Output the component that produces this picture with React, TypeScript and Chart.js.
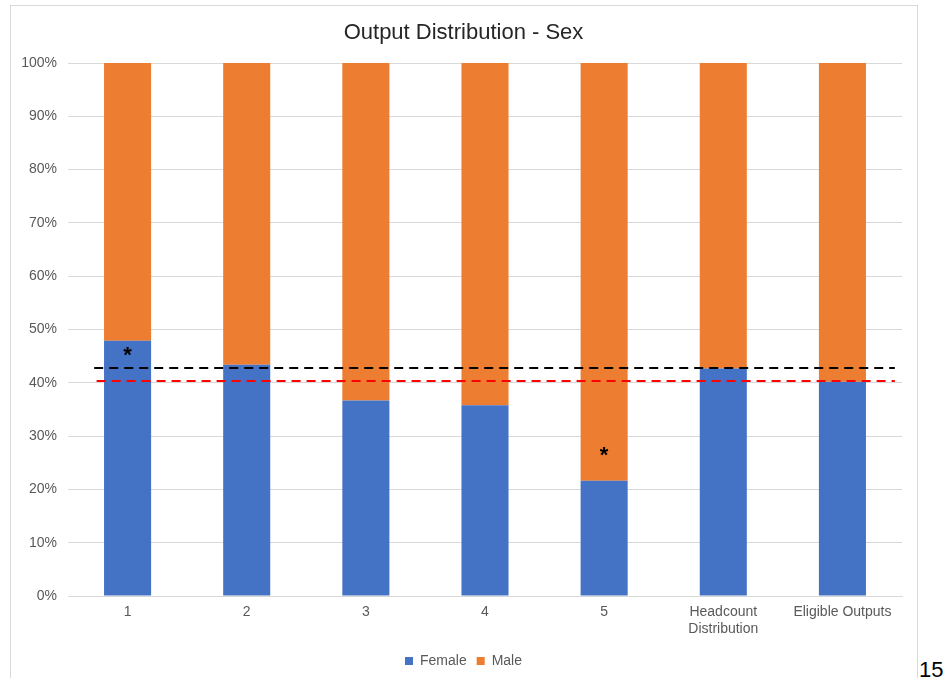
import React, { useEffect, useRef } from "react";
import { Chart, registerables } from "chart.js";

Chart.register(...registerables);

const categories: (string | string[])[] = ["1", "2", "3", "4", "5", ["Headcount", "Distribution"], "Eligible Outputs"];
const femaleValues = [47.9, 43.4, 36.7, 35.8, 21.6, 42.7, 40.2];
const maleValues = [52.1, 56.6, 63.3, 64.2, 78.4, 57.3, 59.8];
const asteriskValues: (number | null)[] = [45.8, null, null, null, 27.0, null, null];
const headcountRef = 42.7;
const eligibleRef = 40.4;
const refLineStart = -0.28;
const refLineEnd = 6.44;
const yTicks = [0, 10, 20, 30, 40, 50, 60, 70, 80, 90, 100];

const FONT = "'Liberation Sans', Arial, sans-serif";

const overlayPlugin = {
  id: "overlay",
  afterDatasetsDraw(chart: any) {
    const ctx = chart.ctx;
    const xs = chart.scales.x;
    const ys = chart.scales.y;
    ctx.save();
    const lines = [
      { v: headcountRef, color: "#000000", start: refLineStart },
      { v: eligibleRef, color: "#FF0000", start: refLineStart + 0.02 },
    ];
    lines.forEach((l) => {
      const y = Math.round(ys.getPixelForValue(l.v));
      ctx.beginPath();
      ctx.strokeStyle = l.color;
      ctx.lineWidth = 2;
      ctx.setLineDash([9, 6]);
      ctx.moveTo(xs.getPixelForValue(l.start), y);
      ctx.lineTo(xs.getPixelForValue(refLineEnd), y);
      ctx.stroke();
    });
    ctx.setLineDash([]);
    const size = 22;
    ctx.fillStyle = "#000000";
    ctx.font = `bold ${size}px ${FONT}`;
    ctx.textAlign = "center";
    ctx.textBaseline = "alphabetic";
    asteriskValues.forEach((v, i) => {
      if (v === null) return;
      const px = xs.getPixelForValue(i);
      const py = ys.getPixelForValue(v);
      ctx.fillText("*", px, py + size * 0.45);
    });
    ctx.restore();
  },
};

export default function App() {
  const ref = useRef<HTMLCanvasElement | null>(null);
  useEffect(() => {
    if (!ref.current) return;
    const chart = new Chart(ref.current, {
      type: "bar",
      data: {
        labels: categories as any,
        datasets: [
          {
            label: "Female",
            data: femaleValues,
            backgroundColor: "#4472C4",
            categoryPercentage: 1,
            barPercentage: 0.395,
          },
          {
            label: "Male",
            data: maleValues,
            backgroundColor: "#ED7D31",
            categoryPercentage: 1,
            barPercentage: 0.395,
          },
        ],
      },
      options: {
        animation: false,
        responsive: false,
        maintainAspectRatio: false,
        layout: { padding: { left: 0, right: 0, top: 0, bottom: 0 } },
        plugins: {
          title: {
            display: true,
            text: "Output Distribution - Sex",
            color: "#262626",
            font: { family: FONT, size: 22, weight: "normal" as any },
            padding: { top: 13.8, bottom: 16.8 },
          },
          legend: {
            position: "bottom",
            labels: {
              color: "#595959",
              font: { family: FONT, size: 14 },
              boxWidth: 8,
              boxHeight: 8,
              padding: 10,
            },
          },
          tooltip: { enabled: false },
        },
        scales: {
          x: {
            stacked: true,
            grid: { display: false, drawTicks: false },
            border: { display: true, color: "#D9D9D9", width: 1 },
            ticks: {
              color: "#595959",
              font: { family: FONT, size: 14 },
              padding: 8,
              maxRotation: 0,
              autoSkip: false,
            },
            afterFit: (s: any) => {
              s.height = 48;
            },
          },
          y: {
            stacked: true,
            min: 0,
            max: 100,
            afterBuildTicks: (s: any) => {
              s.ticks = yTicks.map((v) => ({ value: v }));
            },
            grid: { color: "#D9D9D9", lineWidth: 1, drawTicks: false },
            border: { display: false },
            ticks: {
              color: "#595959",
              font: { family: FONT, size: 14 },
              padding: 11,
              callback: (v: any) => `${v}%`,
            },
            afterFit: (s: any) => {
              s.width = 57;
            },
          },
          yRight: {
            position: "right",
            display: true,
            min: 0,
            max: 100,
            grid: { display: false, drawTicks: false },
            border: { display: false },
            ticks: { display: false },
            afterFit: (s: any) => {
              s.width = 14;
            },
          },
        },
      },
      plugins: [overlayPlugin],
    });
    return () => chart.destroy();
  }, []);

  return (
    <div style={{ position: "fixed", left: 0, top: 0, width: 943, height: 678, background: "#ffffff", overflow: "hidden" }}>
      <div
        style={{
          position: "absolute",
          left: 10,
          top: 5,
          width: 906,
          height: 700,
          borderLeft: "1px solid #D9D9D9",
          borderTop: "1px solid #D9D9D9",
          borderRight: "1px solid #D9D9D9",
        }}
      />
      <div style={{ position: "absolute", left: 11, top: 6, width: 905, height: 672 }}>
        <canvas ref={ref} width={905} height={672} style={{ width: 905, height: 672, display: "block" }} />
      </div>
      <div
        style={{
          position: "absolute",
          left: 919,
          top: 659,
          fontFamily: FONT,
          fontSize: 22,
          lineHeight: 1,
          color: "#000000",
        }}
      >
        15
      </div>
    </div>
  );
}
